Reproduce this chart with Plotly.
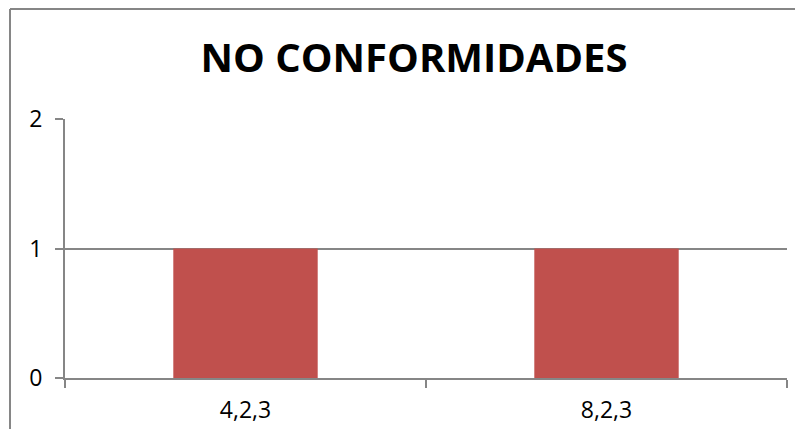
import plotly.graph_objects as go

# datos del grafico
categorias = ['4,2,3', '8,2,3']
valores = [1, 1]
titulo = 'NO CONFORMIDADES'

# la pagina tiene 8 px de margen en el body, se compensa aqui
OFF = 8
W, H = 803 - 2 * OFF, 437 - 2 * OFF
L, R, T, B = 65 - OFF, 8, 119 - OFF, 51
gris = '#868686'

fig = go.Figure()
fig.add_trace(go.Bar(
    x=categorias,
    y=valores,
    marker=dict(color='#C0504D', line=dict(width=0)),
    hoverinfo='skip'))

fig.update_layout(
    width=W, height=H,
    margin=dict(l=L, r=R, t=T, b=B, autoexpand=False),
    paper_bgcolor='white',
    plot_bgcolor='white',
    bargap=0.6,
    showlegend=False,
    font=dict(family='Open Sans', color='black', size=23),
    title=dict(
        text='<b>' + titulo + '</b>',
        font=dict(family='Open Sans', size=40, color='black'),
        xref='container', yref='container',
        x=(414 - OFF) / W, y=1 - (58 - OFF) / H,
        xanchor='center', yanchor='middle'))

fig.update_xaxes(
    type='category',
    tickson='boundaries',
    ticks='outside', ticklen=8, tickwidth=2, tickcolor=gris,
    showline=True, linecolor=gris, linewidth=2,
    showgrid=False, zeroline=False,
    ticklabelstandoff=10,
    tickfont=dict(size=23))

fig.update_yaxes(
    range=[0, 2],
    tickvals=[0, 1, 2],
    ticks='outside', ticklen=8, tickwidth=2, tickcolor=gris,
    showline=True, linecolor=gris, linewidth=2,
    showgrid=True, gridcolor=gris, gridwidth=2,
    zeroline=False,
    ticklabelstandoff=8,
    tickfont=dict(size=23))

# borde del area del grafico (sale por la derecha y por abajo)
pw, ph = W - L - R, H - T - B
x0 = (10 - OFF) / pw - L / pw
y1 = (H - B - 1) / ph
fig.add_shape(type='line', xref='paper', yref='paper',
              x0=x0, x1=1.2, y0=y1, y1=y1,
              line=dict(color=gris, width=2))
fig.add_shape(type='line', xref='paper', yref='paper',
              x0=x0, x1=x0, y0=y1, y1=-0.5,
              line=dict(color=gris, width=2))

fig.write_html('out.html')
